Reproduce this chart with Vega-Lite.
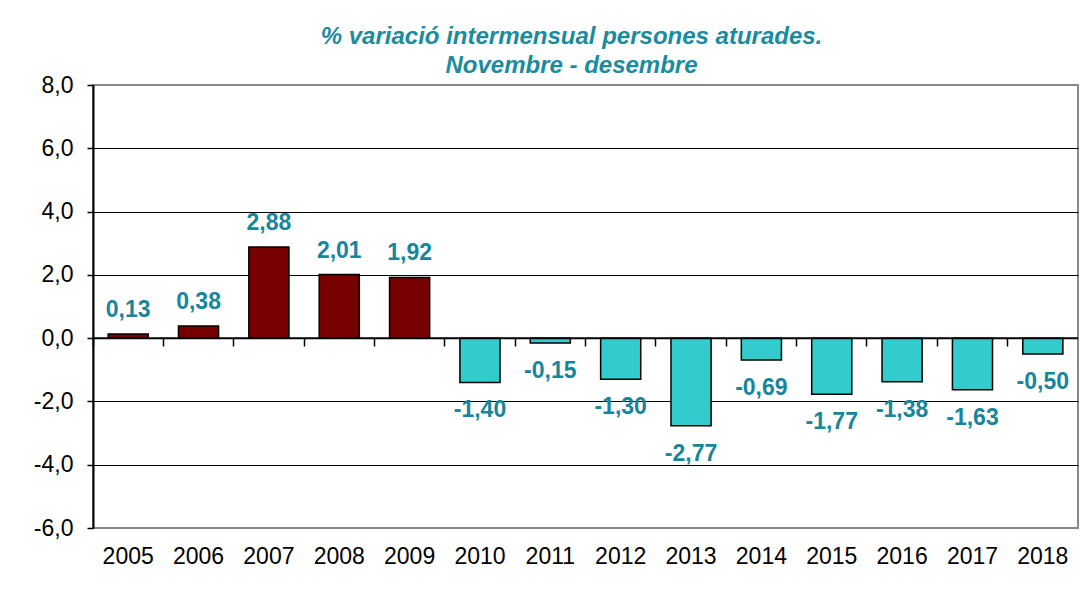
{
  "$schema": "https://vega.github.io/schema/vega-lite/v6.json",
  "width": 985,
  "height": 443,
  "autosize": {"type": "none"},
  "padding": {"left": 93, "top": 85, "right": 14, "bottom": 63},
  "background": "white",
  "title": {
    "text": ["% variació intermensual persones aturades.", "Novembre - desembre"],
    "font": "Liberation Sans",
    "fontSize": 24,
    "fontStyle": "italic",
    "fontWeight": "bold",
    "color": "#1A8C9E",
    "lineHeight": 29,
    "anchor": "middle",
    "dx": -14,
    "offset": -4
  },
  "config": {
    "locale": {"number": {"decimal": ",", "thousands": ".", "grouping": [3], "currency": ["", " €"], "minus": "-"}},
    "view": {"stroke": "#888888", "strokeWidth": 2},
    "font": "Liberation Sans"
  },
  "data": {
    "values": [
      {"year": "2005", "v": 0.13},
      {"year": "2006", "v": 0.38},
      {"year": "2007", "v": 2.88},
      {"year": "2008", "v": 2.01},
      {"year": "2009", "v": 1.92},
      {"year": "2010", "v": -1.40},
      {"year": "2011", "v": -0.15},
      {"year": "2012", "v": -1.30},
      {"year": "2013", "v": -2.77},
      {"year": "2014", "v": -0.69},
      {"year": "2015", "v": -1.77},
      {"year": "2016", "v": -1.38},
      {"year": "2017", "v": -1.63},
      {"year": "2018", "v": -0.50}
    ]
  },
  "resolve": {"axis": {"x": "independent"}},
  "layer": [
    {
      "mark": {"type": "bar", "stroke": "black", "strokeWidth": 1.5},
      "encoding": {
        "x": {
          "field": "year", "type": "ordinal", "sort": null,
          "scale": {"paddingInner": 0.43, "paddingOuter": 0.215},
          "axis": {
            "orient": "bottom", "title": null, "labelAngle": 0,
            "labelFontSize": 23, "labelColor": "black", "labelPadding": 17,
            "domain": false, "ticks": false, "grid": false
          }
        },
        "y": {
          "field": "v", "type": "quantitative",
          "scale": {"domain": [-6, 8], "nice": false, "zero": false},
          "axis": {
            "title": null, "values": [-6, -4, -2, 0, 2, 4, 6, 8],
            "format": ".1f",
            "labelFontSize": 23, "labelColor": "black", "labelPadding": 14,
            "domainColor": "black", "domainWidth": 2,
            "tickColor": "black", "tickSize": 6, "tickWidth": 1.5,
            "grid": true, "gridWidth": 1,
            "gridColor": {"condition": {"test": "datum.value == 8 || datum.value == -6 || datum.value == 0", "value": "transparent"}, "value": "black"}
          }
        },
        "color": {
          "condition": {"test": "datum.v > 0", "value": "#770000"},
          "value": "#33CCCC"
        }
      }
    },
    {
      "mark": {"type": "rule", "color": "black", "strokeWidth": 2},
      "data": {"values": [{"z": 0}]},
      "encoding": {"y": {"field": "z", "type": "quantitative"}}
    },
    {
      "transform": [{"filter": "datum.v > 0"}],
      "mark": {"type": "text", "fontSize": 23, "fontWeight": "bold", "color": "#17869B", "baseline": "middle", "dy": -24},
      "encoding": {
        "x": {
          "field": "year", "type": "ordinal", "sort": null,
          "axis": {
            "orient": "bottom", "offset": -190, "title": null, "labels": false,
            "domain": false, "grid": false,
            "ticks": true, "bandPosition": -0.377, "tickColor": "black", "tickSize": 8, "tickWidth": 1.5
          }
        },
        "y": {"field": "v", "type": "quantitative"},
        "text": {"field": "v", "type": "quantitative", "format": ".2f"}
      }
    },
    {
      "transform": [{"filter": "datum.v < 0"}],
      "mark": {"type": "text", "fontSize": 23, "fontWeight": "bold", "color": "#17869B", "baseline": "middle", "dy": 28},
      "encoding": {
        "x": {"field": "year", "type": "ordinal", "sort": null, "axis": null},
        "y": {"field": "v", "type": "quantitative"},
        "text": {"field": "v", "type": "quantitative", "format": ".2f"}
      }
    }
  ]
}
